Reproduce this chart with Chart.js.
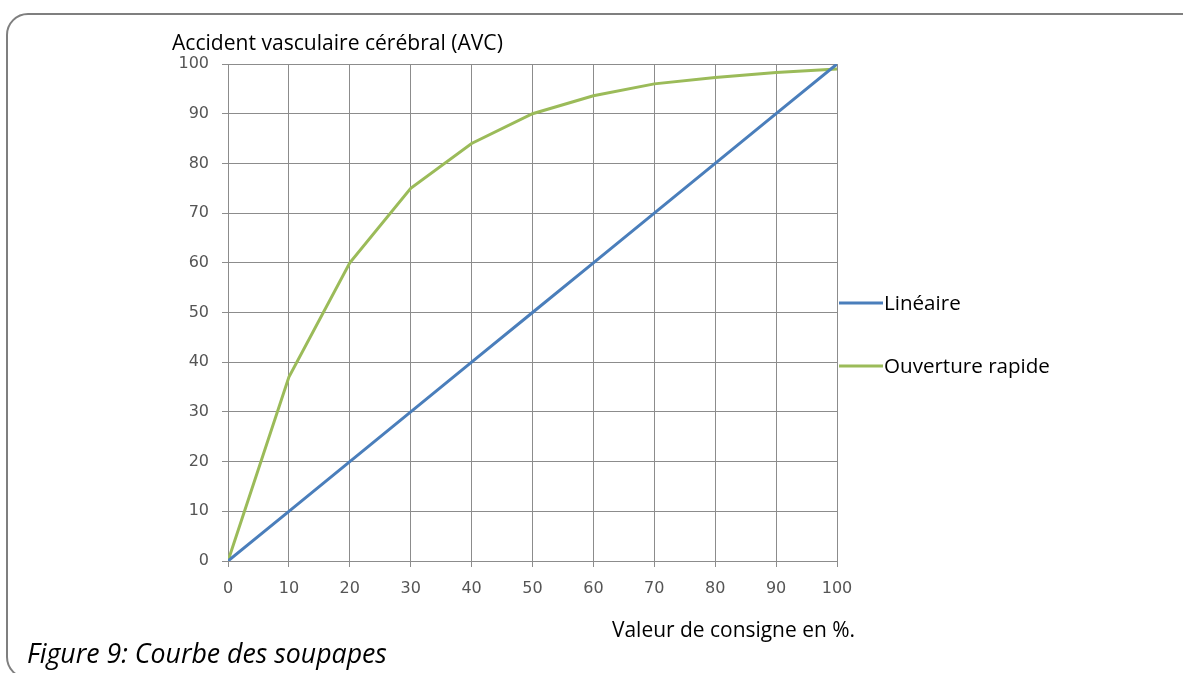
<!DOCTYPE html>
<html><head><meta charset="utf-8">
<script src="https://cdn.jsdelivr.net/npm/chart.js@4"></script>
<style>
html,body{margin:0;padding:0;background:#fff;width:1183px;height:673px;overflow:hidden;position:relative;font-family:"Open Sans",sans-serif;}
#frame{position:absolute;left:6px;top:13px;width:1200px;height:666px;border:2px solid #7f7f7f;border-radius:22px;box-sizing:border-box;}
#c{position:absolute;left:0;top:0;}
.t{position:absolute;white-space:nowrap;color:#000;line-height:1;}
</style></head><body>
<div id="frame"></div>
<canvas id="c" width="1183" height="673"></canvas>
<div class="t" id="ytitle" data-w="331" style="left:172px;top:31px;font-size:17px;">Accident vasculaire cérébral (AVC)</div>
<div class="t" id="xtitle" data-w="243" style="left:612px;top:619px;font-size:16px;">Valeur de consigne en %.</div>
<div class="t" id="caption" data-w="360" style="left:27px;top:640px;font-size:21px;font-style:italic;">Figure 9: Courbe des soupapes</div>
<script>
const consigne = [0, 10, 20, 30, 40, 50, 60, 70, 80, 90, 100];
const lineaire = [0, 10, 20, 30, 40, 50, 60, 70, 80, 90, 100];
const ouvertureRapide = [0, 37, 60, 75, 84, 90, 93.6, 96, 97.3, 98.3, 99];
const seriesNames = ["Linéaire", "Ouverture rapide"];
const seriesColors = ["#4a7ebb", "#9bbb59"];

document.querySelectorAll('.t').forEach(el => {
  const w = +el.dataset.w;
  const fs = parseFloat(el.style.fontSize);
  const cur = el.getBoundingClientRect().width;
  el.style.fontSize = (fs * w / cur).toFixed(2) + 'px';
});

const legendPlugin = {
  id: 'sideLegend',
  afterDraw(chart) {
    const ctx = chart.ctx;
    const ys = [303, 366];
    ctx.save();
    ctx.font = '17px "Open Sans"';
    const m = ctx.measureText(chart.data.datasets[1].label).width;
    const fs = 17 * 166 / m;
    chart.data.datasets.forEach((ds, i) => {
      ctx.strokeStyle = ds.borderColor;
      ctx.lineWidth = 3;
      ctx.beginPath();
      ctx.moveTo(839, ys[i]);
      ctx.lineTo(883, ys[i]);
      ctx.stroke();
      ctx.fillStyle = '#000';
      ctx.font = fs.toFixed(2) + 'px "Open Sans"';
      ctx.textBaseline = 'middle';
      ctx.fillText(ds.label, 884, ys[i] + 1);
    });
    ctx.restore();
  }
};

const mk = arr => consigne.map((x, i) => ({x, y: arr[i]}));
new Chart(document.getElementById('c'), {
  type: 'scatter',
  data: {
    datasets: [
      {label: seriesNames[0], data: mk(lineaire), showLine: true, borderColor: seriesColors[0], backgroundColor: seriesColors[0], borderWidth: 3, pointRadius: 0, tension: 0},
      {label: seriesNames[1], data: mk(ouvertureRapide), showLine: true, borderColor: seriesColors[1], backgroundColor: seriesColors[1], borderWidth: 3, pointRadius: 0, tension: 0}
    ]
  },
  options: {
    responsive: false,
    animation: false,
    layout: {padding: {left: 0, top: 64, right: 346, bottom: 0}},
    plugins: {legend: {display: false}, tooltip: {enabled: false}},
    scales: {
      x: {
        type: 'linear', min: 0, max: 100,
        afterFit(s) { s.height = 112; },
        ticks: {stepSize: 10, color: '#555555', font: {family: 'DejaVu Sans', size: 16}, padding: 12},
        grid: {color: '#8c8c8c', tickColor: '#8c8c8c', tickLength: 6, lineWidth: 1},
        border: {color: '#8c8c8c'}
      },
      y: {
        type: 'linear', min: 0, max: 100,
        afterFit(s) { s.width = 228; },
        ticks: {stepSize: 10, color: '#555555', font: {family: 'DejaVu Sans', size: 16}, padding: 13},
        grid: {color: '#8c8c8c', tickColor: '#8c8c8c', tickLength: 6, lineWidth: 1},
        border: {color: '#8c8c8c'}
      }
    }
  },
  plugins: [legendPlugin]
});
</script>
</body></html>
